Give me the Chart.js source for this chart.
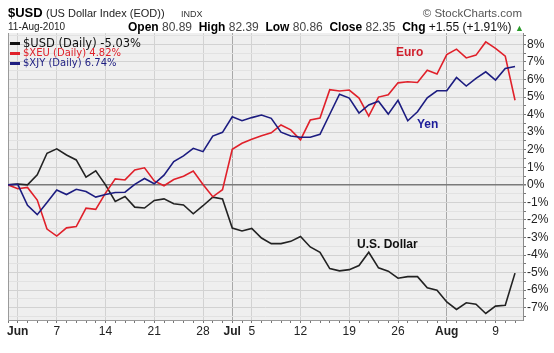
<!DOCTYPE html>
<html lang="en">
<head>
<meta charset="UTF-8">
<title>$USD relative performance</title>
<script src="https://cdn.jsdelivr.net/npm/chart.js"></script>
<style>
  body { margin: 0; background: #fff; }
  #wrap { position: relative; width: 554px; height: 353px; overflow: hidden; font-family: "Liberation Sans", Arial, sans-serif; }
  #chart { position: absolute; left: 0; top: 0; }
  .txt { position: absolute; white-space: nowrap; }
  .hd b { font-weight: bold; color: #000; }
  .lg { position: absolute; left: 10px; white-space: nowrap; font-family: "DejaVu Sans", Verdana, sans-serif; }
  .lg i { display: inline-block; width: 10px; height: 3px; vertical-align: middle; margin-right: 3px; }
  .note { position: absolute; font-weight: bold; font-size: 12px; white-space: nowrap; }
</style>
</head>
<body>
<div id="wrap">
  <canvas id="chart" width="554" height="353"></canvas>

  <!-- header -->
  <div class="txt" style="left:8px;top:5px;font-size:13px;font-weight:bold;">$USD</div>
  <div class="txt" style="left:46px;top:7px;font-size:11px;color:#222;">(US Dollar Index (EOD))</div>
  <div class="txt" style="left:181px;top:9px;font-size:9px;color:#333;">INDX</div>
  <div class="txt" style="right:32px;top:7px;font-size:11.5px;color:#555;">&copy; StockCharts.com</div>
  <div class="txt" style="left:8px;top:21px;font-size:10px;color:#222;">11-Aug-2010</div>
  <div class="txt hd" style="left:128px;top:20px;font-size:12px;color:#444;">
    <b>Open</b> 80.89&nbsp; <b>High</b> 82.39&nbsp; <b>Low</b> 80.86&nbsp; <b>Close</b> 82.35&nbsp; <b>Chg</b> <span style="color:#111">+1.55 (+1.91%)</span> <span style="color:#2a9a2a;font-size:9px">&#9650;</span>
  </div>

  <!-- legend -->
  <div class="lg" style="top:36px;font-size:11.5px;color:#111;"><i style="background:#111"></i>$USD (Daily) -5.03%</div>
  <div class="lg" style="top:47px;font-size:10px;color:#e0202a;"><i style="background:#e0202a"></i>$XEU (Daily) 4.82%</div>
  <div class="lg" style="top:57px;font-size:10px;color:#1c1c80;"><i style="background:#1c1c80"></i>$XJY (Daily) 6.74%</div>

  <!-- line labels -->
  <div class="note" style="left:396px;top:45px;color:#d01f2c;">Euro</div>
  <div class="note" style="left:417px;top:117px;color:#1c1c9a;">Yen</div>
  <div class="note" style="left:357px;top:237px;color:#111;">U.S. Dollar</div>
</div>

<script>
// trading days, 28 May 2010 to 11 Aug 2010
const dates = ['May 28',
  'Jun 1','Jun 2','Jun 3','Jun 4','Jun 7','Jun 8','Jun 9','Jun 10','Jun 11',
  'Jun 14','Jun 15','Jun 16','Jun 17','Jun 18','Jun 21','Jun 22','Jun 23','Jun 24','Jun 25',
  'Jun 28','Jun 29','Jun 30','Jul 1','Jul 2','Jul 5','Jul 6','Jul 7','Jul 8','Jul 9',
  'Jul 12','Jul 13','Jul 14','Jul 15','Jul 16','Jul 19','Jul 20','Jul 21','Jul 22','Jul 23',
  'Jul 26','Jul 27','Jul 28','Jul 29','Jul 30','Aug 2','Aug 3','Aug 4','Aug 5','Aug 6',
  'Aug 9','Aug 10','Aug 11'];

// % change since 28 May
const usd = [0, 0.05, 0, 0.57, 1.80, 2.05, 1.70, 1.42, 0.44, 0.80,
  0, -0.95, -0.66, -1.27, -1.32, -0.89, -0.80, -1.08, -1.15, -1.65,
  -1.19, -0.70, -0.81, -2.46, -2.63, -2.48, -3.03, -3.35, -3.35, -3.22,
  -2.94, -3.54, -3.84, -4.77, -4.90, -4.83, -4.60, -3.84, -4.73, -4.92,
  -5.32, -5.23, -5.23, -5.87, -6.00, -6.67, -7.10, -6.72, -6.80, -7.33,
  -6.91, -6.86, -5.03];
const xeu = [0, -0.22, -0.15, -0.87, -2.52, -2.92, -2.45, -2.38, -1.33, -1.40,
  -0.47, 0.34, 0.28, 0.85, 0.97, 0.22, -0.05, 0.30, 0.49, 0.78,
  0.02, -0.68, -0.28, 2.03, 2.37, 2.60, 2.80, 2.96, 3.41, 3.13,
  2.56, 3.69, 3.81, 5.42, 5.35, 5.40, 4.94, 3.92, 5.00, 5.13,
  5.81, 5.87, 5.83, 6.53, 6.31, 7.42, 7.73, 7.23, 7.39, 8.14,
  7.77, 7.33, 4.82];
const xjy = [0, 0.03, -1.17, -1.70, -1.00, -0.30, -0.55, -0.25, -0.38, -0.70,
  -0.55, -0.44, -0.42, 0.03, 0.36, 0.06, 0.55, 1.33, 1.65, 2.08,
  1.89, 2.78, 2.99, 3.88, 3.65, 3.83, 3.98, 3.79, 3.00, 2.78,
  2.71, 2.71, 2.88, 4.02, 5.16, 4.94, 4.09, 4.55, 4.76, 4.03,
  4.81, 3.65, 4.16, 4.96, 5.36, 5.36, 6.12, 5.63, 6.06, 6.44,
  5.97, 6.63, 6.74];

// x axis labels
const tickDates = ['Jun 1','Jun 7','Jun 14','Jun 21','Jun 28','Jul 1','Jul 5','Jul 12','Jul 19','Jul 26','Aug 2','Aug 9'];
const tickTexts = ['Jun','7','14','21','28','Jul','5','12','19','26','Aug','9'];
const monthTicks = ['Jun','Jul','Aug'];

const labelAt = {};
tickDates.forEach((d, k) => { labelAt[dates.indexOf(d)] = tickTexts[k]; });

function pts(arr) { return arr.map((v, i) => ({ x: i, y: v })); }

const plotBg = {
  id: 'plotBg',
  beforeDraw(chart) {
    const a = chart.chartArea, c = chart.ctx;
    c.save();
    c.fillStyle = '#efefef';
    c.fillRect(a.left, a.top, a.right - a.left, a.bottom - a.top);
    c.restore();
  },
  beforeDatasetsDraw(chart) {
    const a = chart.chartArea, c = chart.ctx;
    c.save();
    c.strokeStyle = '#9a9a9a';
    c.lineWidth = 1;
    c.beginPath();
    c.moveTo(a.left + 0.5, a.top);
    c.lineTo(a.left + 0.5, a.bottom);
    c.stroke();
    c.restore();
  }
};

new Chart(document.getElementById('chart'), {
  type: 'line',
  data: {
    datasets: [
      { label: '$XJY', data: pts(xjy), borderColor: '#1c1c80', order: 1 },
      { label: '$XEU', data: pts(xeu), borderColor: '#e0202a', order: 2 },
      { label: '$USD', data: pts(usd), borderColor: '#222222', order: 3 }
    ]
  },
  options: {
    responsive: false,
    animation: false,
    devicePixelRatio: 1,
    layout: { padding: { left: 8, top: 33, right: 0, bottom: 0 } },
    elements: {
      line: { borderWidth: 1.6, tension: 0 },
      point: { radius: 0 }
    },
    plugins: { legend: { display: false }, tooltip: { enabled: false } },
    scales: {
      x: {
        type: 'linear',
        min: 0,
        max: 52.82,
        afterBuildTicks: s => { s.ticks = dates.map((d, i) => ({ value: i })); },
        afterFit: s => { s.height = 33; },
        border: { color: '#9a9a9a' },
        grid: {
          color: ctx => {
            const t = labelAt[ctx.tick && ctx.tick.value];
            if (t === undefined) return 'rgba(0,0,0,0)';
            return monthTicks.includes(t) && t !== 'Jun' ? '#a8a8a8' : '#d2d2d2';
          },
          tickColor: '#777',
          tickLength: 3
        },
        ticks: {
          autoSkip: false,
          maxRotation: 0,
          padding: 1,
          color: '#222',
          font: ctx => ({
            family: '"Liberation Sans", Arial, sans-serif',
            size: 12,
            weight: monthTicks.includes(labelAt[ctx.tick && ctx.tick.value]) ? 'bold' : 'normal'
          }),
          callback: v => labelAt[v] || ''
        }
      },
      y: {
        position: 'right',
        min: -7.7,
        max: 8.65,
        afterBuildTicks: s => {
          const t = [];
          for (let v = -7.5; v <= 8.5; v += 0.5) t.push({ value: v });
          s.ticks = t;
        },
        afterFit: s => { s.width = 31; },
        border: { color: '#8a8a8a' },
        grid: {
          color: ctx => {
            const v = ctx.tick && ctx.tick.value;
            if (v === 0) return '#7a7a7a';
            return Number.isInteger(v) ? '#d2d2d2' : '#e2e2e2';
          },
          lineWidth: ctx => (ctx.tick && ctx.tick.value === 0 ? 1.5 : 1),
          tickColor: '#777',
          tickLength: 3
        },
        ticks: {
          autoSkip: false,
          padding: 1,
          color: '#222',
          font: { family: '"Liberation Sans", Arial, sans-serif', size: 12 },
          callback: v => (Number.isInteger(v) ? v + '%' : '')
        }
      }
    }
  },
  plugins: [plotBg]
});
</script>
</body>
</html>
